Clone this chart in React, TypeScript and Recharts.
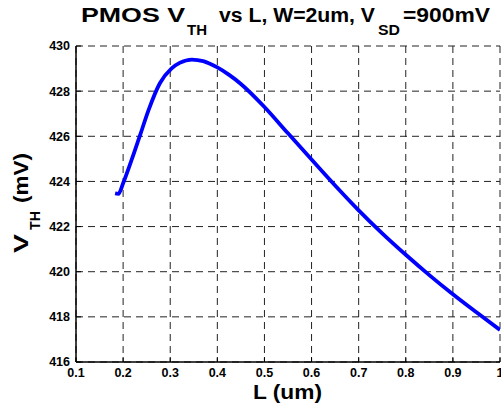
import React from "react";
import { LineChart, Line, XAxis, YAxis, CartesianGrid } from "recharts";

// channel length (um) and threshold voltage (mV)
const lengthUm = [
  0.183, 0.19, 0.2, 0.218, 0.236, 0.254, 0.278, 0.303, 0.32, 0.346, 0.37,
  0.4, 0.425, 0.45, 0.5, 0.55, 0.6, 0.65, 0.7, 0.75, 0.8, 0.85, 0.9, 0.95,
  1.0,
];
const vthMv = [
  423.47, 423.45, 423.92, 424.95, 426.05, 427.16, 428.35, 429.01, 429.25,
  429.4, 429.33, 429.05, 428.72, 428.32, 427.3, 426.13, 424.97, 423.82,
  422.72, 421.7, 420.75, 419.85, 419.0, 418.2, 417.42,
];
const xTicks = [0.1, 0.2, 0.3, 0.4, 0.5, 0.6, 0.7, 0.8, 0.9, 1];
const yTicks = [416, 418, 420, 422, 424, 426, 428, 430];

const data = lengthUm.map((l, i) => ({ l, vth: vthMv[i] }));

const W = 501;
const H = 410;
const font = "'Liberation Sans', Arial, sans-serif";
const tickStyle = { fill: "#000", fontSize: 12.5, fontWeight: 700, fontFamily: font };
const axisLine = { stroke: "#000", strokeWidth: 1.5 };
const blank = () => "";

export default function App() {
  return (
    <div style={{ position: "absolute", left: 0, top: 0, width: W, height: H, background: "#fff" }}>
      <LineChart
        width={W}
        height={H}
        data={data}
        margin={{ top: 46, right: 1, bottom: 18, left: 36 }}
      >
        <CartesianGrid stroke="#222" strokeDasharray="7 5" />
        <XAxis
          dataKey="l"
          type="number"
          domain={[0.1, 1]}
          ticks={xTicks}
          interval={0}
          allowDataOverflow
          height={30}
          tickSize={-5}
          tickMargin={11}
          tick={tickStyle}
          tickLine={{ stroke: "#000" }}
          axisLine={axisLine}
          tickFormatter={(v: number) => String(v)}
        />
        <XAxis
          xAxisId="top"
          orientation="top"
          dataKey="l"
          type="number"
          domain={[0.1, 1]}
          ticks={xTicks}
          interval={0}
          height={0}
          tickSize={-5}
          tickFormatter={blank}
          tickLine={{ stroke: "#000" }}
          axisLine={axisLine}
        />
        <YAxis
          type="number"
          domain={[416, 430]}
          ticks={yTicks}
          interval={0}
          allowDataOverflow
          width={40}
          tickSize={-5}
          tickMargin={11}
          tick={tickStyle}
          tickLine={{ stroke: "#000" }}
          axisLine={axisLine}
        />
        <YAxis
          yAxisId="right"
          orientation="right"
          type="number"
          domain={[416, 430]}
          ticks={yTicks}
          interval={0}
          width={0}
          tickSize={-5}
          tickFormatter={blank}
          tickLine={{ stroke: "#000" }}
          axisLine={axisLine}
        />
        <Line
          dataKey="vth"
          type="monotone"
          stroke="#0000ff"
          strokeWidth={3.8}
          dot={false}
          isAnimationActive={false}
        />
      </LineChart>
      <svg
        width={W}
        height={H}
        style={{ position: "absolute", left: 0, top: 0, pointerEvents: "none" }}
        fontFamily={font}
        fontWeight={700}
      >
        {/* title, pieces placed like the MATLAB tex layout */}
        <text x={81} y={22} fontSize={20} textLength={104} lengthAdjust="spacingAndGlyphs">PMOS V</text>
        <text x={187} y={35} fontSize={14} textLength={20} lengthAdjust="spacingAndGlyphs">TH</text>
        <text x={219} y={22} fontSize={20} textLength={156} lengthAdjust="spacingAndGlyphs">vs L, W=2um, V</text>
        <text x={378} y={35} fontSize={14} textLength={22} lengthAdjust="spacingAndGlyphs">SD</text>
        <text x={403} y={22} fontSize={20} textLength={87} lengthAdjust="spacingAndGlyphs">=900mV</text>

        <text x={253} y={399} fontSize={20} textLength={69} lengthAdjust="spacingAndGlyphs">L (um)</text>

        <text transform="translate(28,253) rotate(-90)" fontSize={20} textLength={19} lengthAdjust="spacingAndGlyphs">V</text>
        <text transform="translate(40,230) rotate(-90)" fontSize={14} textLength={19} lengthAdjust="spacingAndGlyphs">TH</text>
        <text transform="translate(28,203) rotate(-90)" fontSize={20} textLength={50} lengthAdjust="spacingAndGlyphs">(mV)</text>
      </svg>
    </div>
  );
}
